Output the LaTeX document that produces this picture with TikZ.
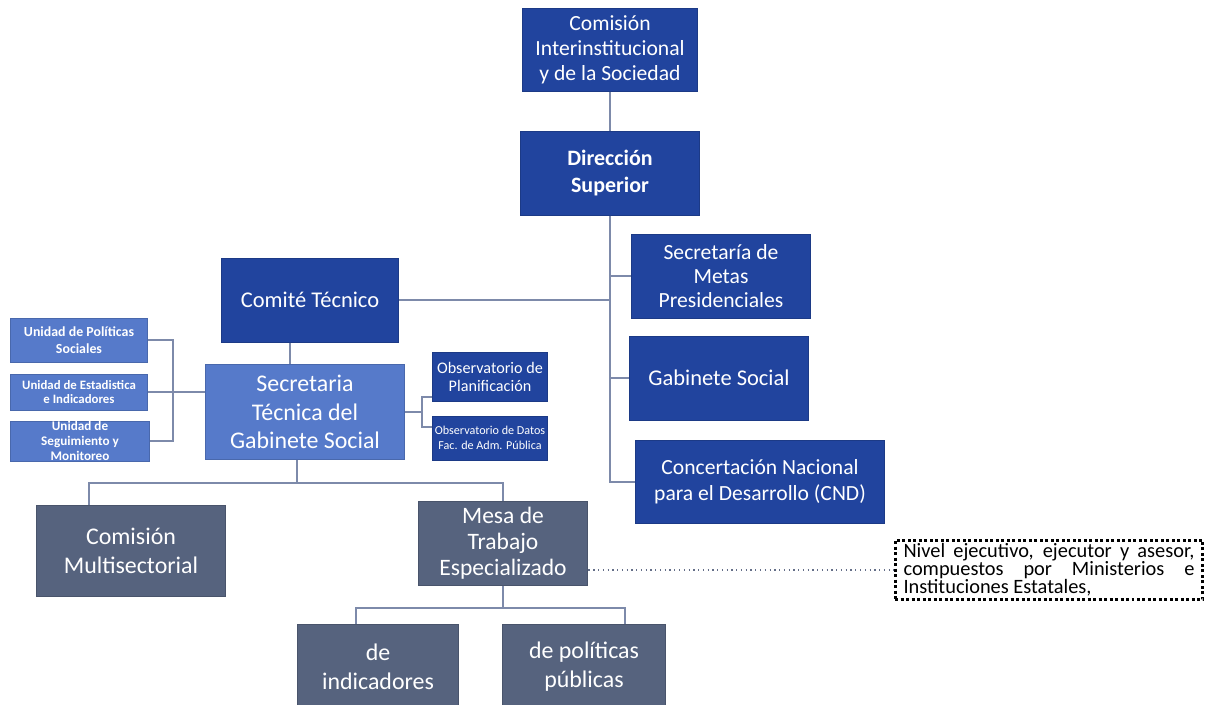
\documentclass[tikz,border=0pt]{standalone}
\usepackage{fontspec}
\setmainfont{Carlito}
\usepackage{tikz}
\usetikzlibrary{positioning}

\definecolor{azul}{RGB}{33,68,158}
\definecolor{azulclaro}{RGB}{86,122,202}
\definecolor{gris}{RGB}{86,99,126}
\definecolor{linea}{RGB}{125,138,170}

\tikzset{
  caja/.style={rectangle, inner sep=0cm, align=center, text=white,
               draw=#1!85!black, line width=0.02cm, fill=#1},
  conector/.style={draw=linea, line width=0.03cm},
  punteado/.style={draw=linea!80!black, line width=0.025cm, dotted},
  nota/.style={rectangle, draw=black, line width=0.06cm,
               dash pattern=on 0.06cm off 0.05cm, inner xsep=0.17cm,
               inner ysep=0.07cm, text width=5.82cm, align=justify},
}

\begin{document}
\begin{tikzpicture}[x=0.02cm, y=-0.02cm]

\useasboundingbox (0,0) rectangle (1206,704);
\clip (0,0) rectangle (1206,704);

\node[caja=azul, minimum width=3.52cm, minimum height=1.66cm,
      font=\fontsize{12.3}{14.3}\selectfont] (cis) at (610,50)
  {Comisión\\Interinstitucional\\y de la Sociedad};
\node[caja=azul, minimum width=3.58cm, minimum height=1.68cm,
      font=\fontsize{12.5}{15.2}\selectfont\bfseries] (ds) at (610,173)
  {Dirección\\Superior};
\node[caja=azul, minimum width=3.54cm, minimum height=1.68cm,
      font=\fontsize{12.8}{15}\selectfont] (comite) at (310,300)
  {Comité Técnico};
\node[caja=azul, minimum width=3.58cm, minimum height=1.68cm,
      font=\fontsize{12.3}{13.8}\selectfont] (metas) at (721,276)
  {Secretaría de\\Metas\\Presidenciales};
\node[caja=azul, minimum width=3.6cm, minimum height=1.68cm,
      font=\fontsize{12.8}{15}\selectfont] (gab) at (719,378)
  {Gabinete Social};
\node[caja=azul, minimum width=5.0cm, minimum height=1.66cm,
      font=\fontsize{12.3}{14.6}\selectfont] (cnd) at (760,482)
  {Concertación Nacional\\para el Desarrollo (CND)};

\node[caja=azulclaro, minimum width=4.0cm, minimum height=1.9cm,
      font=\fontsize{13.6}{16.4}\selectfont] (st) at (305,412)
  {Secretaria\\Técnica del\\Gabinete Social};

\node[caja=azulclaro, minimum width=2.76cm, minimum height=0.88cm,
      font=\fontsize{7.9}{9.6}\selectfont\bfseries] (up) at (79,340)
  {Unidad de Políticas\\Sociales};
\node[caja=azulclaro, minimum width=2.76cm, minimum height=0.72cm,
      font=\fontsize{7.3}{8.5}\selectfont\bfseries] (ue) at (79,392)
  {Unidad de Estadistica\\e Indicadores};
\node[caja=azulclaro, minimum width=2.8cm, minimum height=0.8cm,
      font=\fontsize{7.5}{8.4}\selectfont\bfseries] (us) at (80,441)
  {Unidad de\\Seguimiento y\\Monitoreo};

\node[caja=azul, minimum width=2.3cm, minimum height=0.98cm,
      font=\fontsize{9.2}{10.4}\selectfont] (ob1) at (490,377)
  {Observatorio de\\Planificación};
\node[caja=azul, minimum width=2.3cm, minimum height=0.88cm,
      font=\fontsize{6.9}{8.2}\selectfont] (ob2) at (490,438)
  {Observatorio de Datos\\Fac. de Adm. Pública};

\node[caja=gris, minimum width=3.78cm, minimum height=1.82cm,
      font=\fontsize{13.6}{16.8}\selectfont] (cm) at (131,551)
  {Comisión\\Multisectorial};
\node[caja=gris, minimum width=3.4cm, minimum height=1.68cm,
      font=\fontsize{13.4}{14.8}\selectfont] (mesa) at (503,543)
  {Mesa de\\Trabajo\\Especializado};
\node[caja=gris, minimum width=3.24cm, minimum height=1.7cm,
      font=\fontsize{13.6}{16.4}\selectfont] (ind) at (378,667)
  {de\\indicadores};
\node[caja=gris, minimum width=3.28cm, minimum height=1.7cm,
      font=\fontsize{13.6}{16.4}\selectfont] (pol) at (584,667)
  {de políticas\\públicas};

\node[nota, font=\fontsize{11.6}{10.2}\selectfont] (obs) at (1049,570)
  {Nivel ejecutivo, ejecutor y asesor,\linebreak compuestos por Ministerios e\linebreak Instituciones Estatales,};

\coordinate (ubr) at (173,0);
\coordinate (obt) at (422,397);
\coordinate (obb) at (422,427);
\coordinate (bus1) at (297,483);
\coordinate (cmtop) at (89,483);
\coordinate (bus2) at (503,608);
\coordinate (indtop) at (356,608);
\coordinate (poltop) at (625,608);

\draw[conector] (cis) -- (ds);
\draw[conector] (ds.south) -- (ds.south |- cnd.west) -- (cnd.west);
\draw[conector] (ds.south |- metas.west) -- (metas.west);
\draw[conector] (ds.south |- gab.west) -- (gab.west);
\draw[conector] (ds.south |- comite.east) -- (comite.east);
\draw[conector] ([xshift=-0.4cm]comite.south) -- ([xshift=-0.4cm]comite.south |- st.north);
\draw[conector] (up.east) -- (up.east -| ubr) -- (us.east -| ubr) -- (us.east);
\draw[conector] (ue.east) -- (ue.east -| st.west);
\draw[conector] (st.east) -- (st.east -| obt);
\draw[conector] (ob1.west |- obt) -- (obt) -- (obb) -- (ob2.west |- obb);
\draw[conector] (st.south -| bus1) -- (bus1);
\draw[conector] (cm.north -| cmtop) -- (cmtop) -- (mesa.north |- cmtop) -- (mesa.north);
\draw[conector] (mesa.south) -- (bus2);
\draw[conector] (ind.north -| indtop) -- (indtop) -- (poltop) -- (pol.north -| poltop);
\draw[punteado] (mesa.east |- obs.west) -- (obs.west);

\end{tikzpicture}
\end{document}
